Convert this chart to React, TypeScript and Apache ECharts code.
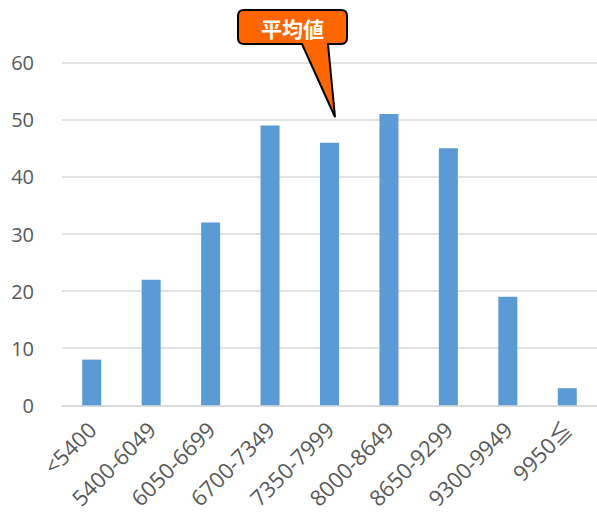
import React, { useEffect, useRef } from "react";
import * as echarts from "echarts";

const categories = ["<5400", "5400-6049", "6050-6699", "6700-7349", "7350-7999", "8000-8649", "8650-9299", "9300-9949", "9950≦"];
const counts = [8, 22, 32, 49, 46, 51, 45, 19, 3];
const yTicks = { min: 0, max: 60, interval: 10 };
const calloutText = "平均値";

const calloutPath =
  "M 244 10 L 341 10 Q 347 10 347 16 L 347 38 Q 347 44 341 44 L 328 44 L 335 117 L 302 44 L 244 44 Q 238 44 238 38 L 238 16 Q 238 10 244 10 Z";

echarts.graphic.registerShape("callout", echarts.graphic.extendPath(calloutPath, {}));

const FONT = "'Open Sans', 'Noto Sans', 'Noto Sans CJK JP', sans-serif";

export default function App() {
  const ref = useRef<HTMLDivElement>(null);
  useEffect(() => {
    const chart = echarts.init(ref.current!, null, { renderer: "svg" });
    chart.setOption({
      animation: false,
      grid: { left: 62, right: -6, top: 62.7, bottom: 512 - 405.3, containLabel: false },
      xAxis: {
        type: "category",
        data: categories,
        axisLine: { show: true, lineStyle: { color: "#D9D9D9", width: 1.5 } },
        axisTick: { show: false },
        axisLabel: {
          interval: 0,
          rotate: 45,
          margin: 20,
          color: "#595959",
          fontSize: 22,
          fontFamily: FONT,
        },
      },
      yAxis: {
        type: "value",
        min: yTicks.min,
        max: yTicks.max,
        interval: yTicks.interval,
        axisLine: { show: false },
        axisTick: { show: false },
        splitLine: { lineStyle: { color: "#D9D9D9", width: 1.5 } },
        axisLabel: { color: "#595959", fontSize: 20, margin: 28, fontFamily: FONT },
      },
      series: [
        {
          type: "bar",
          data: counts,
          barWidth: 19,
          itemStyle: { color: "#5B9BD5" },
        },
      ],
      graphic: [
        {
          type: "callout",
          x: 0,
          y: 0,
          z: 100,
          style: { fill: "#FF6600", stroke: "#000000", lineWidth: 2 },
        },
        {
          type: "text",
          x: 292.5,
          y: 27.5,
          z: 101,
          style: {
            text: calloutText,
            fill: "#FFFFFF",
            font: "bold 21px 'Noto Sans CJK JP', sans-serif",
            textAlign: "center",
            textVerticalAlign: "middle",
          },
        },
      ],
    });
    return () => chart.dispose();
  }, []);
  return (
    <div
      ref={ref}
      style={{ position: "fixed", left: 0, top: 0, width: 597, height: 512, background: "#fff" }}
    />
  );
}
